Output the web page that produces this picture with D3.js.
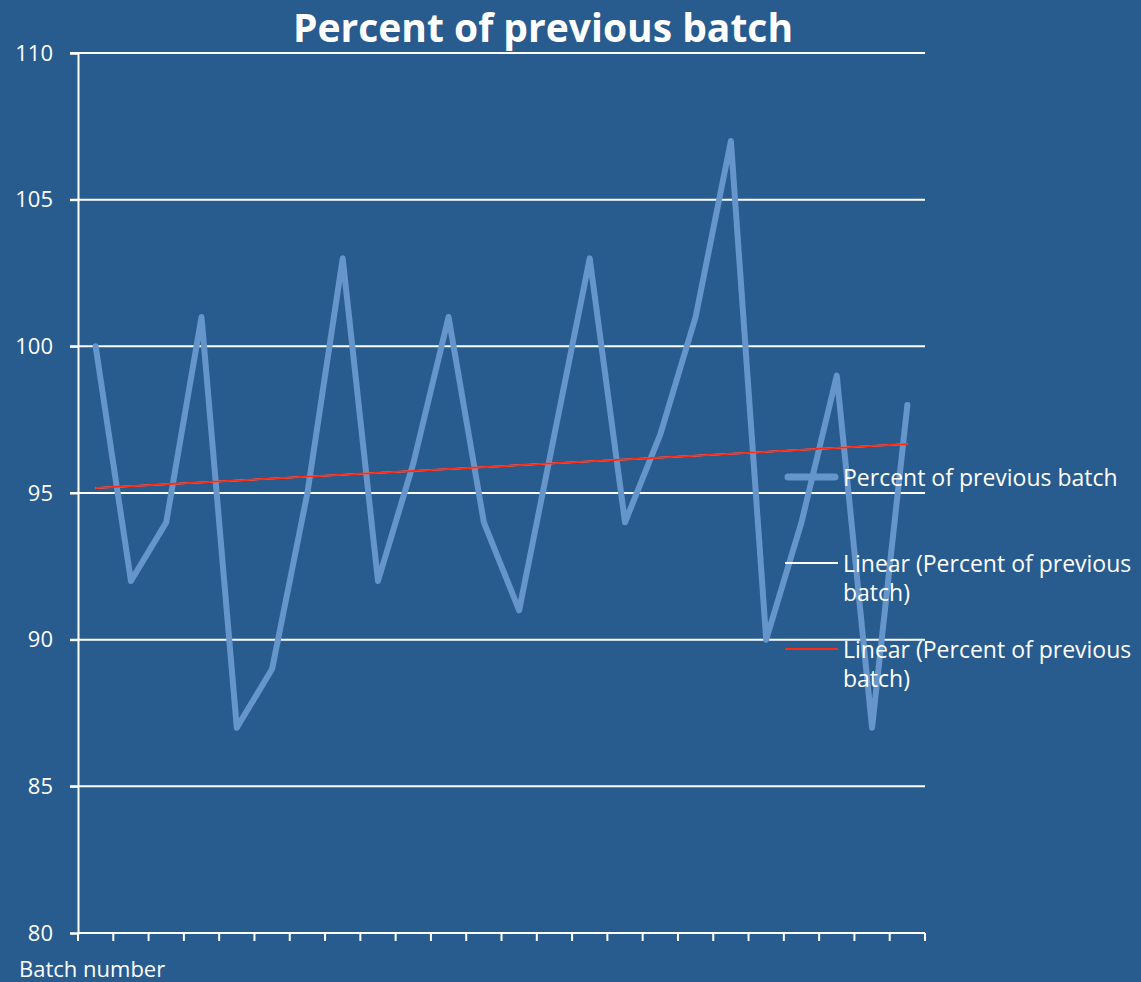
<!DOCTYPE html>
<html>
<head>
<meta charset="utf-8">
<script src="https://cdn.jsdelivr.net/npm/d3@7"></script>
<style>
  html, body { margin: 0; padding: 0; background: #285b8e; }
  text { font-family: "Open Sans", "DejaVu Sans", sans-serif; fill: #fff; }
</style>
</head>
<body>
<div id="chart"></div>
<script>
// batch numbers (category axis, no labels shown)
const batches = d3.range(1, 25);
const percent = [100, 92, 94, 101, 87, 89, 95, 103, 92, 96, 101, 94,
                 91, 97, 103, 94, 97, 101, 107, 90, 94, 99, 87, 98];
const yTicks = [80, 85, 90, 95, 100, 105, 110];
const seriesName = 'Percent of previous batch';

const width = 1141;
const height = 982;
const margin = {top: 53, bottom: 49, left: 78, right: 216};

const svg = d3.select('#chart')
    .append('svg')
    .attr('width', width)
    .attr('height', height);

const x = d3.scaleBand()
    .domain(batches)
    .range([margin.left, width - margin.right]);

const y = d3.scaleLinear()
    .domain([80, 110])
    .range([height - margin.bottom, margin.top]);

const cx = d => x(d) + x.bandwidth() / 2;

// gridlines
svg.append('g')
    .selectAll('line')
    .data(yTicks.slice(1))
    .join('line')
    .attr('x1', margin.left - 8)
    .attr('x2', width - margin.right)
    .attr('y1', d => y(d))
    .attr('y2', d => y(d))
    .attr('stroke', '#fff')
    .attr('stroke-width', 2);

// y axis
svg.append('g')
    .attr('transform', `translate(${margin.left},0)`)
    .call(d3.axisLeft(y).tickValues(yTicks).tickSize(8).tickPadding(17))
    .call(g => g.selectAll('line, path').attr('stroke', '#fff').attr('stroke-width', 2))
    .call(g => g.selectAll('text').attr('font-size', 22).attr('fill', '#fff')
        .style('font-family', '"Open Sans", sans-serif'));

// x axis: ticks at category boundaries
const bounds = batches.map(d => x(d)).concat([width - margin.right]);
svg.append('line')
    .attr('x1', margin.left).attr('x2', width - margin.right)
    .attr('y1', y(80)).attr('y2', y(80))
    .attr('stroke', '#fff').attr('stroke-width', 2);
svg.append('g')
    .selectAll('line')
    .data(bounds)
    .join('line')
    .attr('x1', d => d).attr('x2', d => d)
    .attr('y1', y(80)).attr('y2', y(80) + 8)
    .attr('stroke', '#fff').attr('stroke-width', 2);

// data line
svg.append('path')
    .datum(percent)
    .attr('fill', 'none')
    .attr('stroke', '#6595ca')
    .attr('stroke-width', 6)
    .attr('stroke-linejoin', 'round')
    .attr('stroke-linecap', 'round')
    .attr('d', d3.line().x((d, i) => cx(batches[i])).y(d => y(d)));

// linear trend (least squares)
const n = percent.length;
const mx = d3.mean(batches), my = d3.mean(percent);
const slope = d3.sum(batches, (b, i) => (b - mx) * (percent[i] - my)) /
              d3.sum(batches, b => (b - mx) * (b - mx));
const icpt = my - slope * mx;
const trend = [batches[0], batches[n - 1]].map(b => [b, icpt + slope * b]);
svg.append('line')
    .attr('x1', cx(trend[0][0])).attr('y1', y(trend[0][1]))
    .attr('x2', cx(trend[1][0])).attr('y2', y(trend[1][1]))
    .attr('stroke', '#fff').attr('stroke-width', 1.5);
svg.append('line')
    .attr('x1', cx(trend[0][0])).attr('y1', y(trend[0][1]))
    .attr('x2', cx(trend[1][0])).attr('y2', y(trend[1][1]))
    .attr('stroke', '#ff2a10').attr('stroke-width', 2);

// title
svg.append('text')
    .attr('x', 543).attr('y', 42)
    .attr('text-anchor', 'middle')
    .attr('font-size', 39)
    .attr('font-weight', 'bold')
    .text(seriesName);

// x axis title
svg.append('text')
    .attr('x', 19).attr('y', 977)
    .attr('font-size', 22)
    .text('Batch number');

// legend
const legend = svg.append('g');
const lx = 785;
legend.append('line')
    .attr('x1', lx + 3).attr('x2', lx + 50).attr('y1', 477).attr('y2', 477)
    .attr('stroke', '#6595ca').attr('stroke-width', 7).attr('stroke-linecap', 'round');
legend.append('text').attr('x', 843).attr('y', 486).attr('font-size', 23).text(seriesName);

const items = [{y: 563, color: '#fff'}, {y: 649, color: '#ff2a10'}];
items.forEach(it => {
  legend.append('line')
      .attr('x1', lx).attr('x2', lx + 53).attr('y1', it.y).attr('y2', it.y)
      .attr('stroke', it.color).attr('stroke-width', 2);
  const t = legend.append('text').attr('x', 843).attr('y', it.y + 9).attr('font-size', 23);
  t.append('tspan').attr('x', 843).text('Linear (Percent of previous');
  t.append('tspan').attr('x', 843).attr('dy', 29).text('batch)');
});
</script>
</body>
</html>
